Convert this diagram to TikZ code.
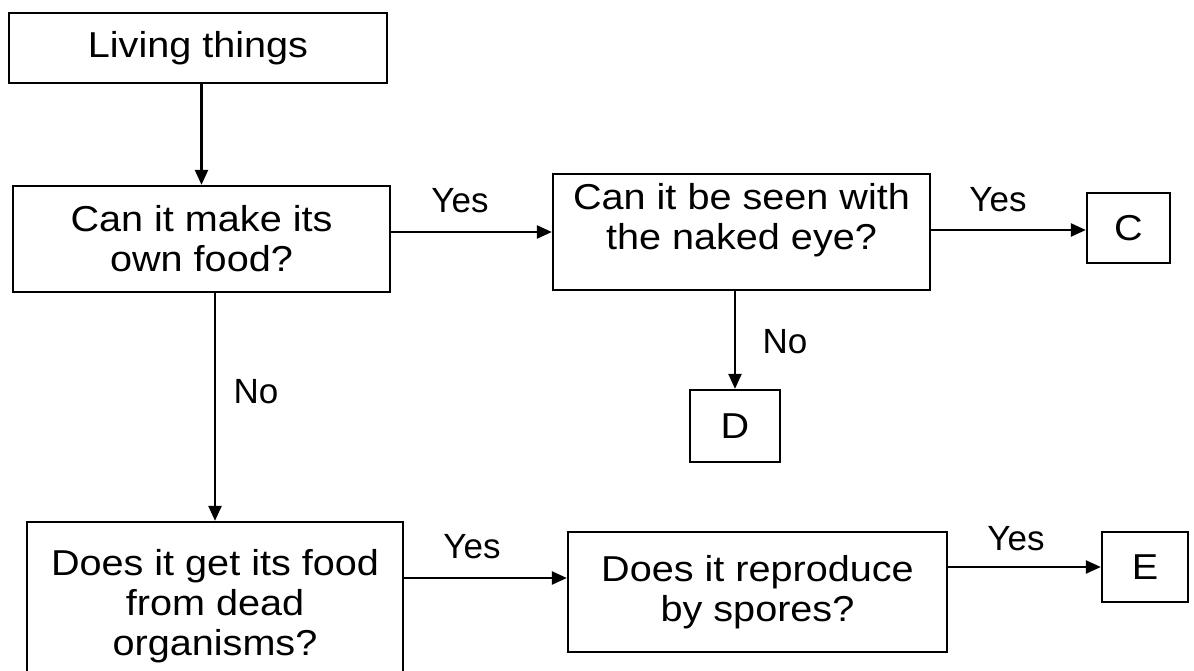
\documentclass[tikz,border=0pt]{standalone}
\usepackage{fontspec}
\usetikzlibrary{arrows.meta}
\newfontfamily\boxfont[FakeStretch=1.1]{Liberation Sans}
\newfontfamily\lblfont{Liberation Sans}
\begin{document}
\begin{tikzpicture}[x=1pt,y=-1pt,
  box/.style={draw, line width=2.3pt, inner sep=0pt, align=center,
    font=\boxfont\fontsize{36}{40}\selectfont},
  lbl/.style={anchor=base, inner sep=0pt, font=\lblfont\fontsize{35}{40}\selectfont},
  conn/.style={line width=2.3pt, -{Triangle[length=15pt,width=13pt]}}]
\useasboundingbox (0,0) rectangle (1194,671);
\fill[white] (0,0) rectangle (1194,671);
\begin{scope}
\clip (0,0) rectangle (1194,671);
\node[box, minimum width=378pt, minimum height=70pt] (living) at (198,48) {Living things};
\node[box, minimum width=377pt, minimum height=106pt] (can) at (201.5,239) {Can it make its\\own food?};
\node[box, minimum width=377pt, minimum height=116pt] (seen) at (741.5,232) {\raisebox{0pt}[\height][\dimexpr\depth+20pt\relax]{\begin{tabular}{@{}c@{}}Can it be seen with\\the naked eye?\end{tabular}}};
\node[box, minimum width=83pt, minimum height=70pt] (c) at (1128.5,228) {C};
\node[box, minimum width=90pt, minimum height=72pt] (d) at (735,426) {D};
\node[box, minimum width=376pt, minimum height=168pt] (does) at (215,606) {Does it get its food\\from dead\\organisms?};
\node[box, minimum width=379pt, minimum height=120pt] (spores) at (757.5,592) {Does it reproduce\\by spores?};
\node[box, minimum width=86pt, minimum height=70pt] (e) at (1145,567) {E};

\draw[conn] (can.north |- living.south) -- (can.north);
\draw[conn] (can.east |- seen.west) -- (seen.west);
\coordinate (s1) at ([yshift=2pt]seen.east);
\draw[conn] (s1) -- (s1 -| c.west);
\draw[conn] (d.north |- seen.south) -- (d.north);
\draw[conn] (does.north |- can.south) -- (does.north);
\coordinate (sp) at ([yshift=14pt]spores.west);
\draw[conn] (does.east |- sp) -- (sp);
\draw[conn] (spores.east |- e.west) -- (e.west);

\node[lbl] (yes1) at (460,213) {Yes};
\node[lbl] (yes2) at (998,212) {Yes};
\node[lbl] (no1) at (256,403) {No};
\node[lbl] (no2) at (785,353) {No};
\node[lbl] (yes3) at (472,558) {Yes};
\node[lbl] (yes4) at (1016,550) {Yes};
\end{scope}
\end{tikzpicture}
\end{document}
